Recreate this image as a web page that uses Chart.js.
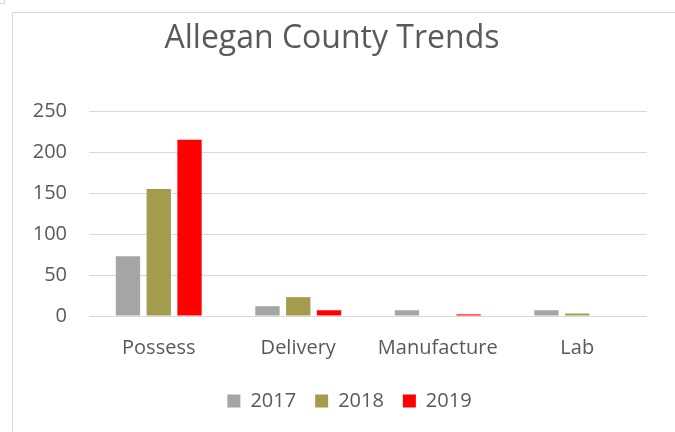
<!DOCTYPE html>
<html>
<head>
<meta charset="utf-8">
<script src="https://cdn.jsdelivr.net/npm/chart.js@4/dist/chart.umd.min.js"></script>
<style>
  html, body { margin: 0; padding: 0; background: #ffffff; }
  body { width: 675px; height: 432px; position: relative; overflow: hidden; }
  #corner { position: absolute; left: -1px; top: -1px; width: 5px; height: 4px;
            border-right: 1px solid #D9D9D9; border-bottom: 1px solid #D9D9D9; }
  #frame { position: absolute; left: 12px; top: 12px; width: 700px; height: 440px;
           border-left: 1px solid #D9D9D9; border-top: 1px solid #D9D9D9; }
  #wrap { position: absolute; left: 13px; top: 13px; width: 673px; height: 419px; }
</style>
</head>
<body>
<div id="corner"></div>
<div id="frame"></div>
<div id="wrap"><canvas id="c"></canvas></div>
<script>
const categories = ["Possess", "Delivery", "Manufacture", "Lab"];
const seriesLabels = ["2017", "2018", "2019"];
const values2017 = [73, 12, 7, 7];
const values2018 = [155, 23, 0, 3];
const values2019 = [215, 7, 2, 0];
const yTicks = [0, 50, 100, 150, 200, 250];
const seriesColors = ["#A5A5A5", "#A39B4E", "#FF0000"];

const textColor = "#595959";
const fontFamily = "'Open Sans', 'Liberation Sans', sans-serif";

const nudgeBoxes = {
  id: "nudgeBoxes",
  afterLayout(chart) {
    const t = chart.titleBlock;
    if (t) { t.left += 2; t.right += 2; }
    const l = chart.legend;
    if (l) { l.left += 19.5; l.right += 19.5; }
  }
};

new Chart(document.getElementById("c"), {
  type: "bar",
  data: {
    labels: categories,
    datasets: [values2017, values2018, values2019].map((v, i) => ({
      label: seriesLabels[i],
      data: v,
      backgroundColor: seriesColors[i],
      borderWidth: 0,
      categoryPercentage: 0.662,
      barPercentage: 0.79
    }))
  },
  plugins: [nudgeBoxes],
  options: {
    responsive: true,
    maintainAspectRatio: false,
    animation: false,
    layout: { padding: { left: 0, right: 39, top: 7, bottom: 11 } },
    plugins: {
      title: {
        display: true,
        text: "Allegan County Trends",
        color: textColor,
        font: { family: fontFamily, size: 32, weight: "normal" },
        padding: { top: 0, bottom: 52.6 }
      },
      legend: {
        position: "bottom",
        labels: {
          color: textColor,
          font: { family: fontFamily, size: 20 },
          boxWidth: 13,
          boxHeight: 13,
          padding: 19
        }
      },
      tooltip: { enabled: false }
    },
    scales: {
      x: {
        grid: { display: false },
        border: { display: false },
        ticks: { color: textColor, font: { family: fontFamily, size: 20 }, padding: 12 }
      },
      y: {
        min: 0,
        max: 250,
        afterBuildTicks: (axis) => { axis.ticks = yTicks.map(v => ({ value: v })); },
        afterFit: (axis) => { axis.width = 76; },
        grid: { color: "#D9D9D9", lineWidth: 1, drawTicks: false },
        border: { display: false },
        ticks: { color: textColor, font: { family: fontFamily, size: 20 }, padding: 22 }
      }
    }
  }
});
</script>
</body>
</html>
